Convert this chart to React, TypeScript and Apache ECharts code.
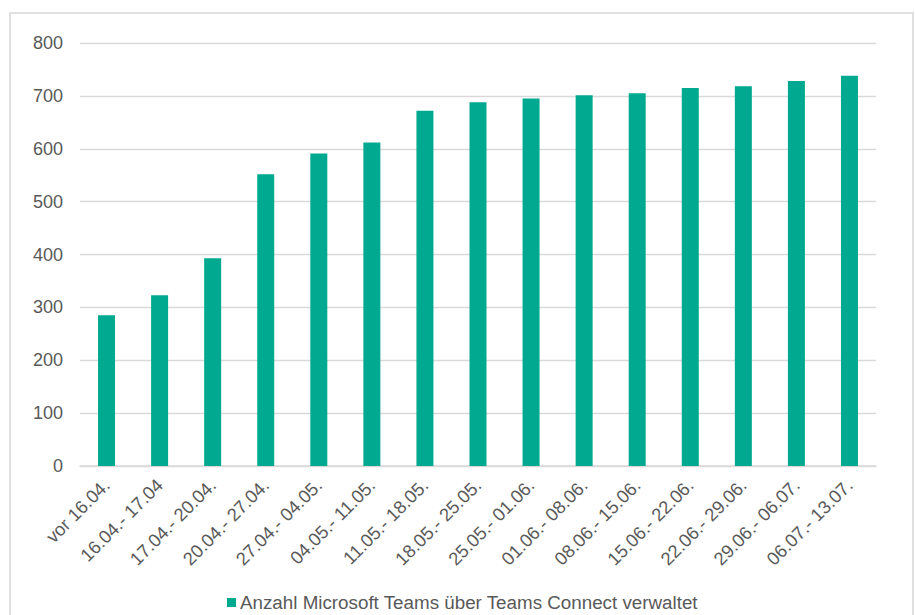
import React, { useEffect, useRef } from "react";
import * as echarts from "echarts";

const categories = [
  "vor 16.04.", "16.04.- 17.04", "17.04.- 20.04.", "20.04.- 27.04.", "27.04.- 04.05.",
  "04.05.- 11.05.", "11.05.- 18.05.", "18.05.- 25.05.", "25.05.- 01.06.", "01.06.- 08.06.",
  "08.06.- 15.06.", "15.06.- 22.06.", "22.06.- 29.06.", "29.06.- 06.07.", "06.07.- 13.07.",
];
const values = [285, 323, 393, 552, 591, 612, 672, 688, 695, 701, 705, 715, 718, 728, 738];
const seriesName = "Anzahl Microsoft Teams über Teams Connect verwaltet";

const FONT = "'Liberation Sans', Arial, sans-serif";
const TEXT = "#595959";

export default function App() {
  const ref = useRef<HTMLDivElement>(null);
  useEffect(() => {
    if (!ref.current) return;
    const chart = echarts.init(ref.current, undefined, { renderer: "svg" });
    chart.setOption({
      animation: false,
      backgroundColor: "#ffffff",
      textStyle: { fontFamily: FONT },
      graphic: [
        {
          type: "rect",
          shape: { x: 10, y: 13, width: 903, height: 640 },
          style: { fill: "none", stroke: "#e0e0e0", lineWidth: 2 },
          silent: true,
        },
      ],
      grid: { left: 80, right: 39, top: 43, bottom: 149, containLabel: false },
      legend: {
        left: 227,
        top: 593,
        padding: 0,
        itemWidth: 9,
        itemHeight: 9,
        itemGap: 10,
        icon: "rect",
        textStyle: { color: TEXT, fontSize: 18.8, fontFamily: FONT, padding: [0, 0, 0, -1] },
        data: [seriesName],
      },
      xAxis: {
        type: "category",
        data: categories,
        axisLine: { lineStyle: { color: "#d9d9d9", width: 1.5 } },
        axisTick: { show: false },
        axisLabel: {
          interval: 0,
          rotate: 45,
          color: TEXT,
          fontSize: 18.3,
          fontFamily: FONT,
          margin: 16,
        },
      },
      yAxis: {
        type: "value",
        min: 0,
        max: 800,
        interval: 100,
        axisLine: { show: false },
        axisTick: { show: false },
        axisLabel: { color: TEXT, fontSize: 18, fontFamily: FONT, margin: 17 },
        splitLine: { lineStyle: { color: "#d9d9d9", width: 1.3 } },
      },
      series: [
        {
          name: seriesName,
          type: "bar",
          data: values,
          barWidth: 17,
          itemStyle: { color: "#00A98F" },
        },
      ],
    });
    return () => chart.dispose();
  }, []);
  return (
    <div
      ref={ref}
      style={{ position: "absolute", left: 0, top: 0, width: 915, height: 615 }}
    />
  );
}
